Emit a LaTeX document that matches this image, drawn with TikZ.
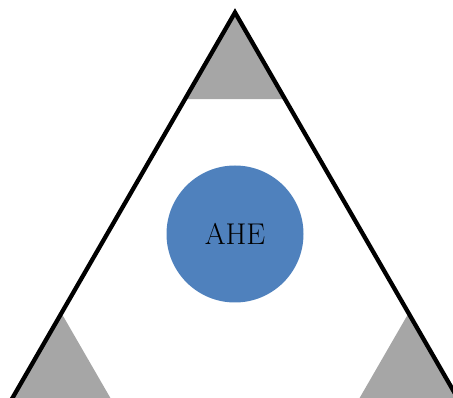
\documentclass[tikz,border=0pt]{standalone}
\usetikzlibrary{calc}
\definecolor{ahe}{RGB}{79,129,189}
\definecolor{corner}{RGB}{166,166,166}
\begin{document}
\begin{tikzpicture}[x=1pt,y=-1pt,
  cornerfill/.style={fill=corner,draw=none},
  outline/.style={draw=black,line width=4.3pt,line join=miter},
  ahenode/.style={circle,fill=ahe,minimum size=137pt,inner sep=0pt,font=\fontsize{30}{32}\selectfont}]
\useasboundingbox (0,0) rectangle (453,398);
\clip (0,0) rectangle (453,398);
\coordinate (A) at (235,12.5);
\coordinate (B) at (8.4,405);
\coordinate (C) at (461.6,405);
% corner triangles (fraction of side)
\fill[cornerfill] (A) -- ($(A)!0.2204!(B)$) -- ($(A)!0.2204!(C)$) -- cycle;
\fill[cornerfill] (B) -- ($(B)!0.234!(A)$) -- ($(B)!0.234!(C)$) -- cycle;
\fill[cornerfill] (C) -- ($(C)!0.234!(A)$) -- ($(C)!0.234!(B)$) -- cycle;
\draw[outline] (A) -- (B) -- (C) -- cycle;
\node[ahenode] (ahe) at (235,234) {AHE};
\end{tikzpicture}
\end{document}
